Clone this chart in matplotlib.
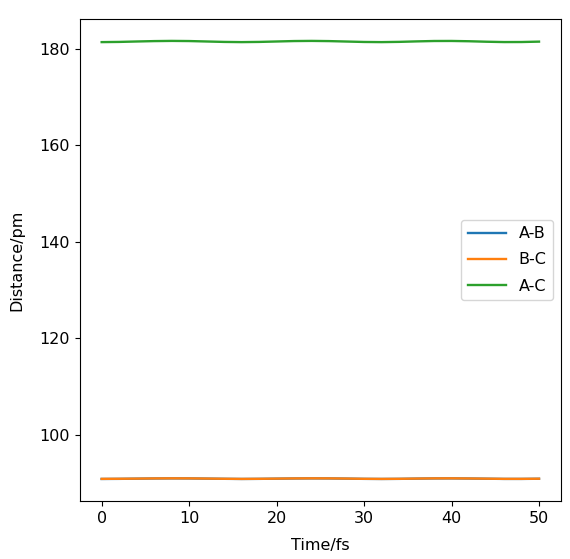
import matplotlib

matplotlib.use("Agg")
import matplotlib.pyplot as plt

time_fs = [0, 2, 4, 6, 8, 10, 12, 14, 16, 18, 20, 22, 24,
           26, 28, 30, 32, 34, 36, 38, 40, 42, 44, 46, 48, 50]

dist_ab = [90.78, 90.80, 90.84, 90.88, 90.90, 90.89, 90.85, 90.81, 90.78,
           90.80, 90.84, 90.88, 90.90, 90.89, 90.85, 90.80, 90.78, 90.80,
           90.85, 90.89, 90.90, 90.87, 90.83, 90.79, 90.79, 90.82]
dist_bc = [90.80, 90.82, 90.85, 90.89, 90.91, 90.90, 90.86, 90.82, 90.79,
           90.81, 90.85, 90.89, 90.91, 90.90, 90.86, 90.81, 90.79, 90.81,
           90.86, 90.90, 90.91, 90.88, 90.84, 90.80, 90.80, 90.83]
dist_ac = [181.45, 181.49, 181.58, 181.66, 181.70, 181.67, 181.58, 181.49,
           181.45, 181.49, 181.58, 181.67, 181.70, 181.66, 181.57, 181.48,
           181.45, 181.50, 181.60, 181.68, 181.69, 181.63, 181.53, 181.46,
           181.47, 181.55]

plt.rcParams["font.size"] = 11.5

fig = plt.figure(figsize=(5.70, 5.59), dpi=100)
ax = fig.add_axes([0.140, 0.104, 0.844, 0.862])

ax.plot(time_fs, dist_ab, label="A-B", linewidth=1.7)
ax.plot(time_fs, dist_bc, label="B-C", linewidth=1.7)
ax.plot(time_fs, dist_ac, label="A-C", linewidth=1.7)
ax.set_xlabel("Time/fs", labelpad=9)
ax.set_ylabel("Distance/pm", labelpad=11)
ax.legend(loc="center right", handlelength=2.4, labelspacing=0.7)

fig.savefig("out.png", dpi=100)
plt.close(fig)
